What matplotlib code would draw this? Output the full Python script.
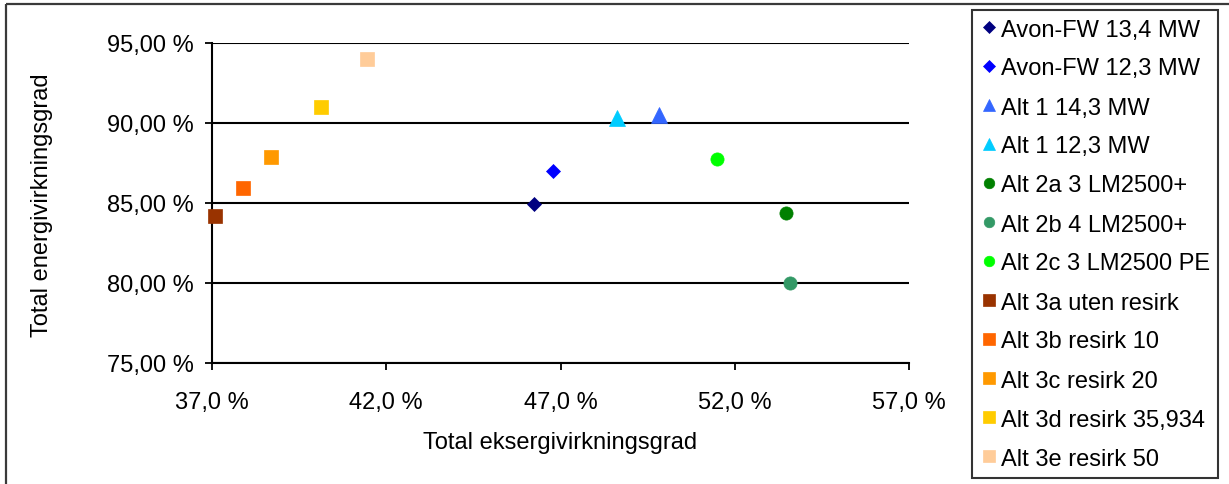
import matplotlib
matplotlib.use("Agg")
import matplotlib.pyplot as plt
from matplotlib.ticker import FuncFormatter, FixedLocator
from matplotlib.patches import Rectangle

plt.rcParams['font.family'] = ['Liberation Sans', 'DejaVu Sans']

# Series: name, exergy efficiency (%), energy efficiency (%)
series_names = [
    "Avon-FW 13,4 MW", "Avon-FW 12,3 MW", "Alt 1 14,3 MW", "Alt 1 12,3 MW",
    "Alt 2a 3 LM2500+", "Alt 2b 4 LM2500+", "Alt 2c 3 LM2500 PE",
    "Alt 3a uten resirk", "Alt 3b resirk 10", "Alt 3c resirk 20",
    "Alt 3d resirk 35,934", "Alt 3e resirk 50",
]
exergy_eff = [46.24, 46.78, 49.84, 48.61, 53.47, 53.59, 51.49,
              37.09, 37.90, 38.70, 40.13, 41.45]
energy_eff = [84.94, 87.00, 90.53, 90.31, 84.40, 80.00, 87.75,
              84.19, 85.94, 87.90, 91.00, 94.00]
series_colors = ["#000080", "#0000FF", "#3366FF", "#00CCFF",
                 "#008000", "#339966", "#00FF00",
                 "#993300", "#FF6600", "#FF9900", "#FFCC00", "#FFCC99"]
series_markers = ["D", "D", "^", "^", "o", "o", "o", "s", "s", "s", "s", "s"]
marker_sizes = [7.2, 7.2, 11, 11, 9.5, 9.5, 9.5, 10.5, 10.5, 10.5, 10.5, 10.5]

x_ticks = [37.0, 42.0, 47.0, 52.0, 57.0]
y_ticks = [75.0, 80.0, 85.0, 90.0, 95.0]

W, H = 1229, 485
fig = plt.figure(figsize=(W / 100, H / 100), dpi=100)

# outer chart-area frame
fig.patches.append(Rectangle((6 / W, 1 - 5 / H), 1.2, -1.2, transform=fig.transFigure,
                             fill=False, edgecolor="#3a3a3a", linewidth=1.6, zorder=0))

ax = fig.add_axes([212 / W, 1 - 364 / H, (909 - 212) / W, (364 - 44) / H])
ax.set_xlim(x_ticks[0], x_ticks[-1])
ax.set_ylim(y_ticks[0], y_ticks[-1])

for name, xv, yv, c, m, ms in zip(series_names, exergy_eff, energy_eff,
                                   series_colors, series_markers, marker_sizes):
    ax.plot([xv], [yv], linestyle="none", marker=m, markersize=ms,
            markerfacecolor=c, markeredgecolor=c, markeredgewidth=0.5,
            label=name, zorder=3, clip_on=False)

ax.xaxis.set_major_locator(FixedLocator(x_ticks))
ax.yaxis.set_major_locator(FixedLocator(y_ticks))
ax.xaxis.set_major_formatter(FuncFormatter(lambda v, p: f"{v:.1f}".replace(".", ",") + " %"))
ax.yaxis.set_major_formatter(FuncFormatter(lambda v, p: f"{v:.2f}".replace(".", ",") + " %"))

for s in ["top", "right"]:
    ax.spines[s].set_visible(False)
for s in ["left", "bottom"]:
    ax.spines[s].set_linewidth(1.5)
    ax.spines[s].set_color("black")

ax.grid(axis="y", color="black", linewidth=1.5, zorder=1)
ax.set_axisbelow(True)
ax.tick_params(axis="both", direction="out", length=5, width=1.3, labelsize=17, colors="black")
ax.tick_params(axis="y", pad=8)
ax.tick_params(axis="x", pad=15)

fig.text(560 / W, 1 - 443 / H, "Total eksergivirkningsgrad", ha="center", va="center", fontsize=17)
fig.text(42 / W, 1 - 205 / H, "Total energivirkningsgrad", ha="center", va="center",
         rotation=90, fontsize=17)

leg = fig.legend(loc="upper left", bbox_to_anchor=(972 / W, 1 - 11 / H), borderaxespad=0,
                 fontsize=17, frameon=True, fancybox=False, numpoints=1, markerscale=0.8,
                 handlelength=0.7, handletextpad=0.15, labelspacing=0.72, borderpad=0.36)
leg.get_frame().set_edgecolor("black")
leg.get_frame().set_linewidth(1.5)

fig.savefig("out.png", dpi=100)
